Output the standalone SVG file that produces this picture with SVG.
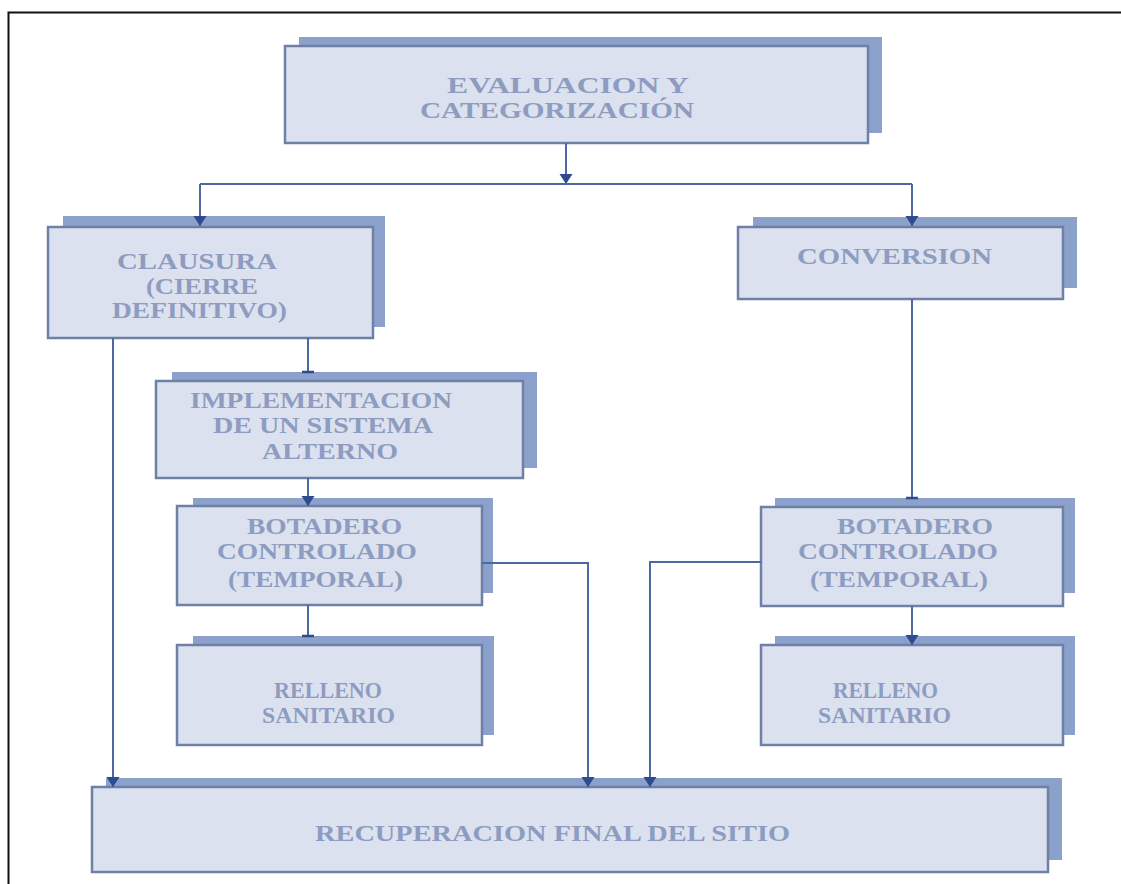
<svg xmlns="http://www.w3.org/2000/svg" width="1121" height="884" viewBox="0 0 1121 884">
<defs>
<marker id="arr" markerUnits="userSpaceOnUse" markerWidth="11" markerHeight="16" refX="10" refY="8" orient="auto">
<path d="M0,1.5 L10,8 L0,14.5 z" fill="#2d4b8e"/>
</marker>
<marker id="tee" markerUnits="userSpaceOnUse" markerWidth="4" markerHeight="14" refX="2" refY="7" orient="auto">
<path d="M2,1 V13" stroke="#2d4b8e" stroke-width="2.5"/>
</marker>
</defs>
<style>
.sh{fill:#8ba0cb;}
.fr{fill:#dbe1ee;stroke:#6f80a6;stroke-width:2.5;}
.t{font-family:"Liberation Serif","Times New Roman",serif;font-weight:bold;font-size:23.5px;fill:#8d9cc0;}
.c{fill:none;stroke:#4d68a3;stroke-width:2;}
</style>
<rect x="0" y="0" width="1121" height="884" fill="#ffffff"/>
<path d="M8.5,884 V12.5 H1121" fill="none" stroke="#111" stroke-width="2"/>

<g id="n-evaluacion">
<rect class="sh" x="299" y="37" width="583" height="96"/>
<rect class="fr" x="285" y="46" width="583" height="97"/>
<text class="t" x="447" y="93" textLength="242" lengthAdjust="spacingAndGlyphs">EVALUACION Y</text>
<text class="t" x="420" y="118" textLength="274" lengthAdjust="spacingAndGlyphs">CATEGORIZACIÓN</text>
</g>

<g id="n-clausura">
<rect class="sh" x="63" y="216" width="322" height="111"/>
<rect class="fr" x="48" y="227" width="325" height="111"/>
<text class="t" x="117" y="269" textLength="160" lengthAdjust="spacingAndGlyphs">CLAUSURA</text>
<text class="t" x="146" y="294" textLength="112" lengthAdjust="spacingAndGlyphs">(CIERRE</text>
<text class="t" x="112" y="318" textLength="175" lengthAdjust="spacingAndGlyphs">DEFINITIVO)</text>
</g>

<g id="n-conversion">
<rect class="sh" x="753" y="217" width="324" height="71"/>
<rect class="fr" x="738" y="227" width="325" height="72"/>
<text class="t" x="797" y="264" textLength="195" lengthAdjust="spacingAndGlyphs">CONVERSION</text>
</g>

<g id="n-implementacion">
<rect class="sh" x="172" y="372" width="365" height="96"/>
<rect class="fr" x="156" y="381" width="367" height="97"/>
<text class="t" x="190" y="408" textLength="262" lengthAdjust="spacingAndGlyphs">IMPLEMENTACION</text>
<text class="t" x="213" y="433" textLength="220" lengthAdjust="spacingAndGlyphs">DE UN SISTEMA</text>
<text class="t" x="262" y="459" textLength="136" lengthAdjust="spacingAndGlyphs">ALTERNO</text>
</g>

<g id="n-botadero-izq">
<rect class="sh" x="193" y="498" width="300" height="95"/>
<rect class="fr" x="177" y="506" width="305" height="99"/>
<text class="t" x="247" y="534" textLength="155" lengthAdjust="spacingAndGlyphs">BOTADERO</text>
<text class="t" x="217" y="559" textLength="200" lengthAdjust="spacingAndGlyphs">CONTROLADO</text>
<text class="t" x="228" y="587" textLength="175" lengthAdjust="spacingAndGlyphs">(TEMPORAL)</text>
</g>

<g id="n-botadero-der">
<rect class="sh" x="775" y="498" width="300" height="95"/>
<rect class="fr" x="761" y="507" width="302" height="99"/>
<text class="t" x="837" y="534" textLength="156" lengthAdjust="spacingAndGlyphs">BOTADERO</text>
<text class="t" x="798" y="559" textLength="200" lengthAdjust="spacingAndGlyphs">CONTROLADO</text>
<text class="t" x="810" y="587" textLength="178" lengthAdjust="spacingAndGlyphs">(TEMPORAL)</text>
</g>

<g id="n-relleno-izq">
<rect class="sh" x="193" y="636" width="301" height="99"/>
<rect class="fr" x="177" y="645" width="305" height="100"/>
<text class="t" x="274" y="698" textLength="108" lengthAdjust="spacingAndGlyphs">RELLENO</text>
<text class="t" x="262" y="723" textLength="133" lengthAdjust="spacingAndGlyphs">SANITARIO</text>
</g>

<g id="n-relleno-der">
<rect class="sh" x="775" y="636" width="300" height="99"/>
<rect class="fr" x="761" y="645" width="302" height="100"/>
<text class="t" x="833" y="698" textLength="105" lengthAdjust="spacingAndGlyphs">RELLENO</text>
<text class="t" x="818" y="723" textLength="133" lengthAdjust="spacingAndGlyphs">SANITARIO</text>
</g>

<g id="n-recuperacion">
<rect class="sh" x="106" y="778" width="956" height="82"/>
<rect class="fr" x="92" y="787" width="956" height="85"/>
<text class="t" x="315" y="841" textLength="475" lengthAdjust="spacingAndGlyphs">RECUPERACION FINAL DEL SITIO</text>
</g>

<g id="connectors">
<path class="c" d="M566,143 V184" marker-end="url(#arr)"/>
<path class="c" d="M200,184 H912"/>
<path class="c" d="M200,184 V226" marker-end="url(#arr)"/>
<path class="c" d="M912,184 V226" marker-end="url(#arr)"/>
<path class="c" d="M308,338 V372" marker-end="url(#tee)"/>
<path class="c" d="M308,478 V506" marker-end="url(#arr)"/>
<path class="c" d="M308,605 V636" marker-end="url(#tee)"/>
<path class="c" d="M113,338 V787" marker-end="url(#arr)"/>
<path class="c" d="M482,563 H588 V787" marker-end="url(#arr)"/>
<path class="c" d="M912,299 V498" marker-end="url(#tee)"/>
<path class="c" d="M912,606 V645" marker-end="url(#arr)"/>
<path class="c" d="M761,562 H650 V787" marker-end="url(#arr)"/>
</g>
</svg>
